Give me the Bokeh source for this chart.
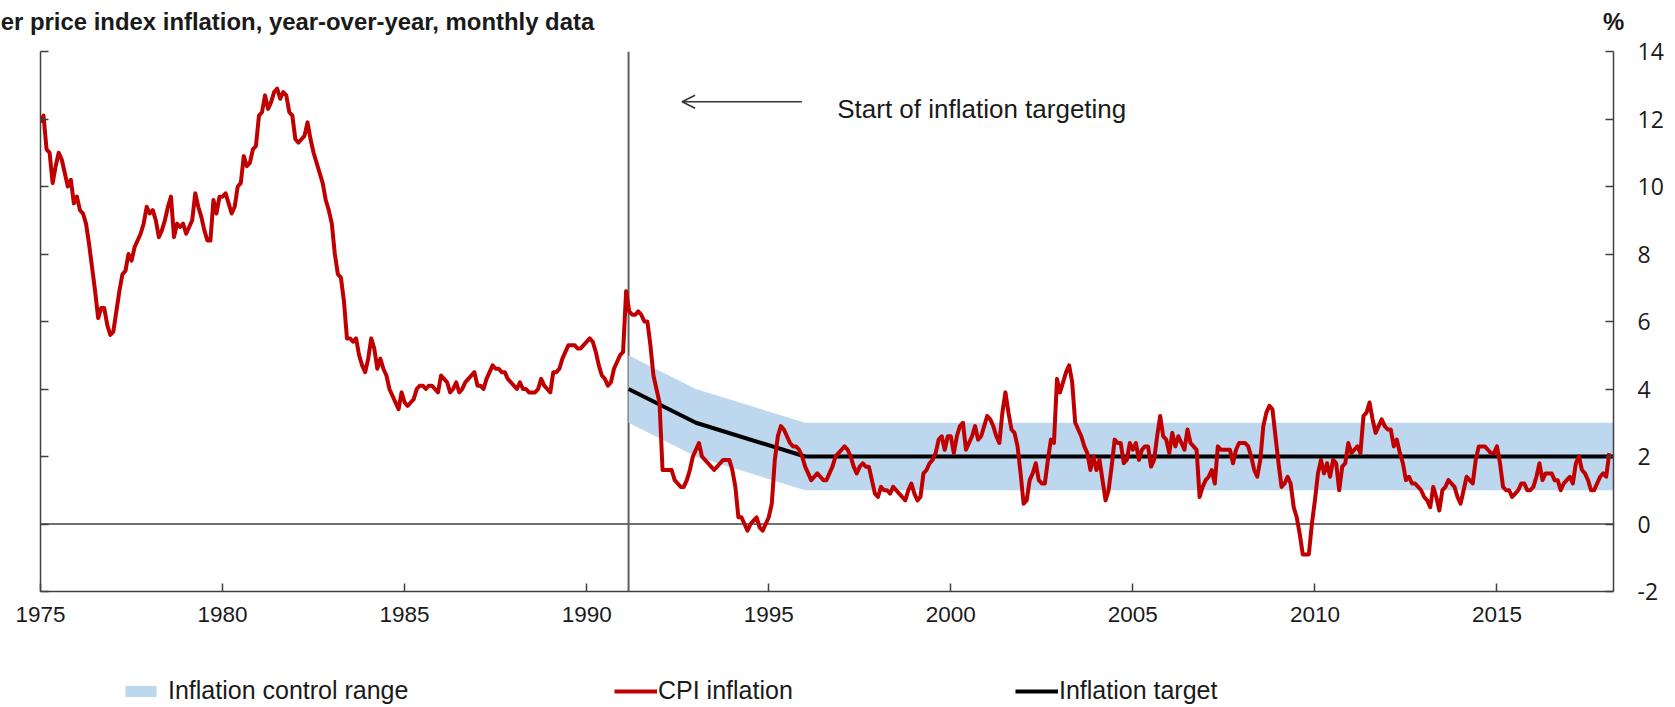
from bokeh.plotting import figure
from bokeh.layouts import column
from bokeh.models import (Range1d, LinearAxis, FixedTicker, Span, Arrow, OpenHead,
                          Label, Legend, LegendItem, CustomJSTickFormatter)
from bokeh.core.properties import value
from bokeh.embed import file_html
from bokeh.resources import INLINE

# ---------------- data ----------------
start_year = 1975
cpi_1975_1984 = [
    11.9, 12.1, 11.1, 11.0, 10.1, 10.6, 11.0, 10.8, 10.4, 10.0, 10.2, 9.5,
    9.7, 9.3, 9.2, 8.9, 8.3, 7.6, 6.9, 6.1, 6.4, 6.4, 5.9, 5.6,
    5.7, 6.3, 6.9, 7.4, 7.5, 8.0, 7.8, 8.2, 8.4, 8.6, 8.9, 9.4,
    9.2, 9.3, 9.0, 8.5, 8.7, 9.0, 9.4, 9.7, 8.5, 8.9, 8.8, 8.9,
    8.6, 8.8, 9.0, 9.8, 9.4, 9.1, 8.7, 8.4, 8.4, 9.6, 9.2, 9.7,
    9.7, 9.8, 9.5, 9.2, 9.4, 10.0, 10.1, 10.9, 10.6, 10.7, 11.1, 11.2,
    12.1, 12.2, 12.7, 12.3, 12.5, 12.8, 12.9, 12.6, 12.8, 12.7, 12.2, 12.1,
    11.4, 11.3, 11.4, 11.5, 11.9, 11.4, 11.0, 10.7, 10.4, 10.1, 9.6, 9.3,
    8.9, 8.0, 7.4, 7.3, 6.6, 5.5, 5.5, 5.4, 5.5, 5.0, 4.7, 4.5,
    4.9, 5.5, 5.2, 4.6, 4.9, 4.6, 4.4, 4.0, 3.8, 3.6, 3.4, 3.9,
]
cpi_1985_1994 = [
    3.6, 3.5, 3.6, 3.7, 4.0, 4.1, 4.1, 4.0, 4.1, 4.1, 4.0, 3.9,
    4.4, 4.3, 4.2, 3.9, 4.0, 4.2, 3.9, 4.0, 4.2, 4.3, 4.4, 4.5,
    4.1, 4.1, 4.0, 4.3, 4.5, 4.7, 4.6, 4.6, 4.5, 4.5, 4.3, 4.2,
    4.1, 4.0, 4.2, 4.0, 4.0, 3.9, 3.9, 3.9, 4.0, 4.3, 4.1, 4.0,
    3.9, 4.5, 4.5, 4.6, 4.9, 5.1, 5.3, 5.3, 5.3, 5.2, 5.2, 5.3,
    5.4, 5.5, 5.4, 5.1, 4.7, 4.4, 4.3, 4.1, 4.2, 4.6, 4.8, 5.0,
    5.1, 6.9, 6.3, 6.2, 6.2, 6.3, 6.2, 6.0, 6.0, 5.3, 4.4, 4.0,
    3.6, 1.6, 1.6, 1.6, 1.6, 1.3, 1.2, 1.1, 1.1, 1.3, 1.6, 2.0,
    2.2, 2.4, 2.0, 1.9, 1.8, 1.7, 1.6, 1.7, 1.8, 1.9, 1.9, 1.9,
    1.6, 1.1, 0.2, 0.2, 0.0, -0.2, 0.0, 0.1, 0.2, -0.1, -0.2, 0.0,
]
cpi_1995_2004 = [
    0.2, 0.6, 1.9, 2.6, 2.9, 2.8, 2.6, 2.4, 2.3, 2.3, 2.2, 2.0,
    1.7, 1.5, 1.3, 1.4, 1.5, 1.4, 1.3, 1.3, 1.5, 1.7, 2.0, 2.1,
    2.2, 2.3, 2.2, 2.0, 1.7, 1.5, 1.7, 1.8, 1.7, 1.7, 1.3, 0.9,
    0.8, 1.1, 1.0, 1.0, 0.9, 1.1, 1.0, 0.9, 0.8, 0.7, 1.0, 1.2,
    0.9, 0.7, 0.8, 1.5, 1.6, 1.8, 1.9, 2.1, 2.5, 2.6, 2.2, 2.6,
    2.6, 2.1, 2.6, 2.9, 3.0, 2.2, 2.4, 2.6, 2.9, 2.5, 2.6, 2.9,
    3.2, 3.1, 2.9, 2.6, 2.4, 3.3, 3.9, 3.3, 2.8, 2.7, 2.3, 1.5,
    0.6, 0.7, 1.3, 1.5, 1.8, 1.3, 1.2, 1.2, 1.9, 2.5, 2.4, 4.3,
    3.9, 4.2, 4.5, 4.7, 4.2, 3.0, 2.8, 2.6, 2.3, 2.1, 1.6, 2.0,
    1.6, 1.9, 1.3, 0.7, 1.0, 1.7, 2.5, 2.4, 2.4, 1.8, 1.9, 2.4,
]
cpi_2005_2018 = [
    2.2, 2.4, 1.9, 2.2, 2.3, 2.3, 1.7, 1.9, 2.6, 3.2, 2.6, 2.5,
    2.1, 2.7, 2.3, 2.6, 2.4, 2.2, 2.8, 2.4, 2.3, 2.2, 0.8, 1.1,
    1.3, 1.4, 1.6, 1.2, 2.3, 2.2, 2.2, 2.2, 2.2, 1.8, 2.2, 2.4,
    2.4, 2.4, 2.3, 2.0, 1.6, 1.4, 1.9, 2.9, 3.3, 3.5, 3.4, 2.6,
    1.8, 1.1, 1.2, 1.4, 1.2, 0.5, 0.2, -0.3, -0.9, -0.9, -0.9, 0.0,
    0.7, 1.5, 1.9, 1.5, 1.8, 1.4, 1.9, 1.8, 1.0, 1.7, 1.8, 2.4,
    2.1, 2.2, 2.3, 2.1, 3.2, 3.3, 3.6, 3.1, 2.7, 2.9, 3.1, 2.9,
    2.8, 2.8, 2.3, 2.5, 2.1, 1.8, 1.3, 1.4, 1.2, 1.2, 1.1, 1.0,
    0.8, 0.7, 0.5, 1.1, 0.8, 0.4, 1.0, 1.1, 1.3, 1.2, 1.1, 0.8,
    0.6, 1.0, 1.4, 1.3, 1.2, 1.9, 2.3, 2.3, 2.3, 2.2, 2.1, 2.1,
    2.3, 1.8, 1.1, 1.0, 1.0, 0.8, 0.9, 1.0, 1.2, 1.2, 1.0, 1.0,
    1.1, 1.4, 1.8, 1.3, 1.5, 1.5, 1.5, 1.3, 1.3, 1.0, 1.2, 1.3,
    1.4, 1.2, 1.8, 2.0, 1.6, 1.5, 1.3, 1.0, 1.0, 1.2, 1.4, 1.5,
    1.4, 2.1,
]
cpi_inflation = cpi_1975_1984 + cpi_1985_1994 + cpi_1995_2004 + cpi_2005_2018
months = [start_year + i / 12 for i in range(len(cpi_inflation))]

target_years = [1991.15, 1993.0, 1996.0, 2018.2]
target_values = [4.0, 3.0, 2.0, 2.0]
band_half_width = 1.0
band_lower = [t - band_half_width for t in target_values]
band_upper = [t + band_half_width for t in target_values]

targeting_start = 1991.15
year_ticks = [1975, 1980, 1985, 1990, 1995, 2000, 2005, 2010, 2015]
pct_ticks = [-2, 0, 2, 4, 6, 8, 10, 12, 14]

title_text = "er price index inflation, year-over-year, monthly data"
unit_text = "%"
note_text = "Start of inflation targeting"
legend_labels = ["Inflation control range", "CPI inflation", "Inflation target"]

# ---------------- styling / layout ----------------
FONT = "Liberation Sans"
AX = "#404040"
TXT = "#1a1a1a"
BAND = "#BDD7EE"
RED = "#C00000"
W = 1674
TOP_H = 36
MAIN_H = 605
LEG_H = 65
FRAME_L, FRAME_R = 40, 1613          # page x of the plotting frame

# ---------------- header strip (title + unit) ----------------
top = figure(width=W, height=TOP_H, output_backend="svg", toolbar_location=None,
             x_range=Range1d(FRAME_L, FRAME_R), y_range=Range1d(0, 1),
             x_axis_location=None, y_axis_location=None,
             min_border_left=FRAME_L, min_border_right=W - FRAME_R,
             min_border_top=34, min_border_bottom=0)
top.grid.visible = False
top.outline_line_color = None
header_pos = [297, 1613]   # centres of the two header texts (page px)
hdr = LinearAxis(ticker=FixedTicker(ticks=header_pos),
                 major_label_overrides={header_pos[0]: title_text, header_pos[1]: unit_text},
                 axis_line_color=None, major_tick_line_color=None,
                 minor_tick_line_color=None, major_tick_in=0, major_tick_out=0,
                 major_label_standoff=0, major_label_text_font=FONT,
                 major_label_text_font_size="23.9px", major_label_text_font_style="bold",
                 major_label_text_color=TXT)
top.add_layout(hdr, "above")

# ---------------- main chart ----------------
p = figure(width=W, height=MAIN_H, output_backend="svg", toolbar_location=None,
           x_range=Range1d(1975, 2018.2), y_range=Range1d(-2, 14),
           x_axis_location=None, y_axis_location=None,
           min_border_left=FRAME_L, min_border_right=W - FRAME_R, min_border_top=15,
           min_border_bottom=50)
p.grid.visible = False
p.outline_line_color = None

common = dict(axis_line_color=AX, axis_line_width=1.5, major_tick_line_color=AX,
              major_tick_line_width=1.5, major_tick_in=8, major_tick_out=0,
              minor_tick_line_color=None)

xaxis = LinearAxis(ticker=FixedTicker(ticks=year_ticks), major_label_standoff=15,
                   major_label_text_font=FONT, major_label_text_font_size="22.5px",
                   major_label_text_color=TXT, **common)
p.add_layout(xaxis, "below")

raxis = LinearAxis(ticker=FixedTicker(ticks=pct_ticks), major_label_standoff=24,
                   major_label_text_font="Open Sans", major_label_text_font_size="23px",
                   major_label_text_color=TXT,
                   major_label_overrides={-2: "-2"}, **common)
p.add_layout(raxis, "right")

laxis = LinearAxis(ticker=FixedTicker(ticks=pct_ticks),
                   formatter=CustomJSTickFormatter(code="return ''"),
                   major_label_standoff=0, **common)
p.add_layout(laxis, "left")

p.add_layout(Span(location=0, dimension="width", line_color=AX, line_width=1.5,
                  level="underlay"))
p.add_layout(Span(location=targeting_start, dimension="height", line_color="#606060",
                  line_width=2, level="underlay"))

p.varea(x=target_years, y1=band_lower, y2=band_upper, fill_color=BAND)
p.line(target_years, target_values, line_color="black", line_width=4)
p.line(months, cpi_inflation, line_color=RED, line_width=4, line_join="round")

p.add_layout(Arrow(x_start=1995.91, y_start=12.51, x_end=1992.62, y_end=12.51,
                   line_color="#333333", line_width=1.5,
                   end=OpenHead(size=13, line_color="#333333", line_width=1.5)))
p.add_layout(Label(x=1996.88, y=12.3, text=note_text, text_baseline="middle",
                   text_font=FONT, text_font_size="26px", text_color=TXT))

# ---------------- legend strip ----------------
leg = figure(width=W, height=LEG_H, output_backend="svg", toolbar_location=None,
             x_range=Range1d(0, W), y_range=Range1d(0, LEG_H),
             x_axis_location=None, y_axis_location=None,
             min_border_left=FRAME_L, min_border_right=W - FRAME_R,
             min_border_top=0, min_border_bottom=0)
leg.grid.visible = False
leg.outline_line_color = None
r_band = leg.varea(x=target_years, y1=band_lower, y2=band_upper, fill_color=BAND,
                   visible=False)
r_cpi = leg.line(months, cpi_inflation, line_color=RED, line_width=4, visible=False)
r_tgt = leg.line(target_years, target_values, line_color="black", line_width=4,
                 visible=False)

leg_x = [81, 574, 975]
glyph_w = [39, 43, 43]
standoffs = [8, 1, 1]
for lab, r, lx, gw, so in zip(legend_labels, [r_band, r_cpi, r_tgt], leg_x, glyph_w, standoffs):
    lg = Legend(items=[LegendItem(label=value(lab), renderers=[r])],
                location=(lx, 1), orientation="horizontal",
                background_fill_alpha=0, border_line_alpha=0, padding=0, margin=0,
                spacing=0, glyph_width=gw, glyph_height=14, label_standoff=so,
                label_height=28, label_text_font=FONT, label_text_font_size="25px",
                label_text_color=TXT, inactive_fill_alpha=0)
    leg.add_layout(lg)

layout = column(top, p, leg, spacing=0)
open("out.html", "w").write(file_html(layout, INLINE))
